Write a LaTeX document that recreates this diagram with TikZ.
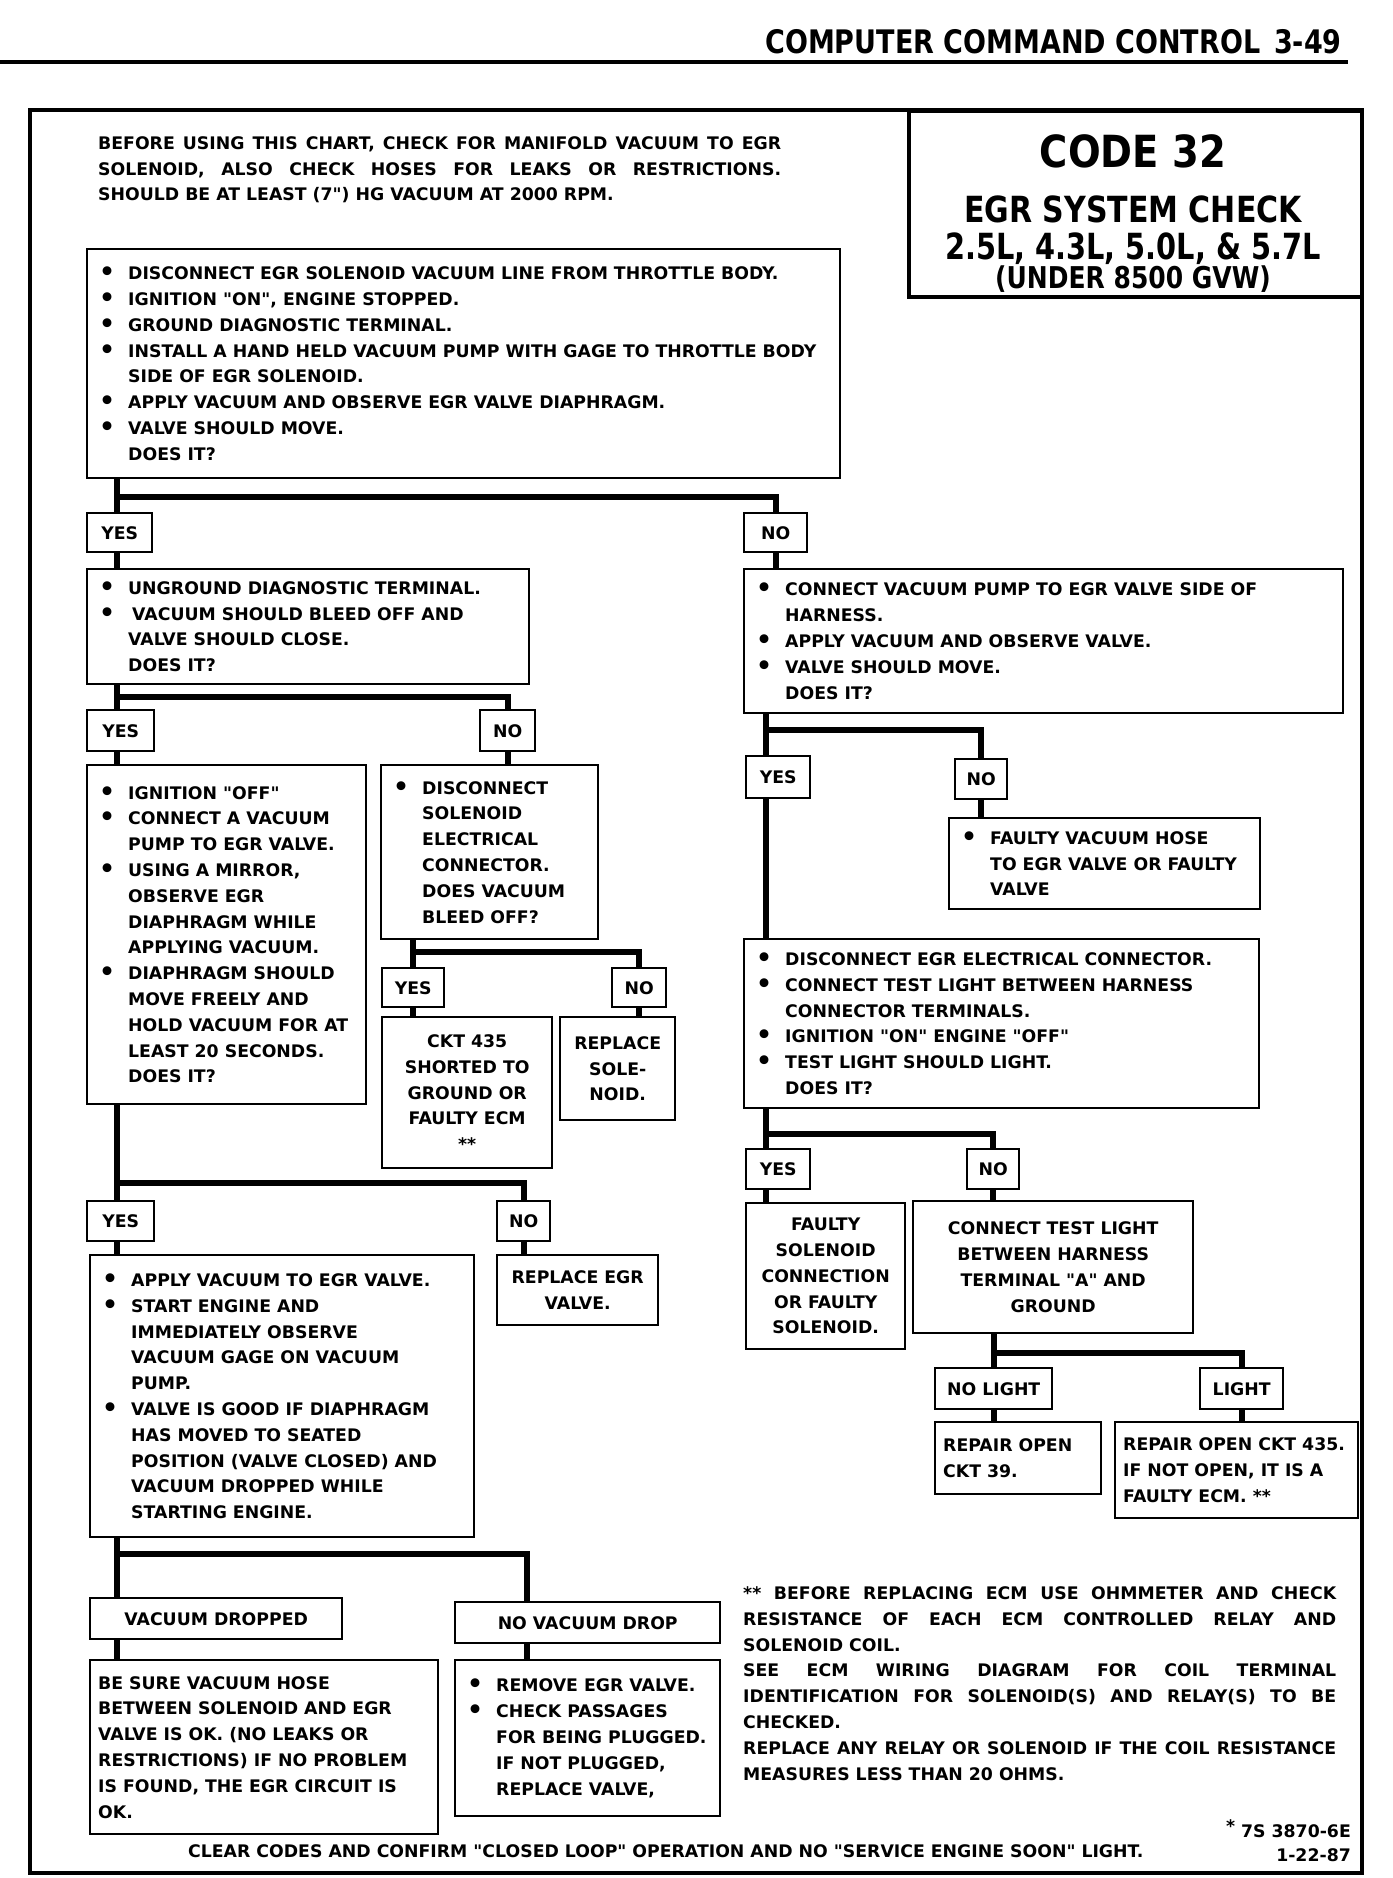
\documentclass[tikz,border=0pt]{standalone}
\usepackage{fontspec}
\setmainfont{DejaVu Sans}[Ligatures=TeXOff]
\usetikzlibrary{calc}
\newcommand\tf{\fontsize{17.3}{25.8}\selectfont\bfseries}
\newcommand\bu{\makebox[29pt][l]{\raisebox{-1pt}{\scalebox{1.45}{\textbullet}}}}
\newcommand\ii{\hspace*{29pt}}
\begin{document}
\begin{tikzpicture}[x=1pt,y=-1pt,
  box/.style={draw, line width=2.4pt, fill=white, anchor=north west, inner sep=0pt},
  lab/.style={box, font=\tf, align=center},
  conn/.style={line width=6pt},
  txt/.style={inner sep=0pt, font=\tf, align=left, anchor=west},
  ctxt/.style={inner sep=0pt, font=\tf, align=center, anchor=center},
  free/.style={inner sep=0pt, font=\tf, align=left}]
\useasboundingbox (0,0) rectangle (1392,1878);
% header
\node[inner sep=0pt, anchor=base east, font=\fontsize{27}{27}\selectfont\bfseries] (hdr) at (1342,54) {\scalebox{1}[1.2]{COMPUTER COMMAND CONTROL\hspace{14pt}3-49}};
\draw[line width=4pt] (0,62) -- (1348,62);
% frame
\draw[line width=3.5pt] (30,110) rectangle (1362,1873);
% intro
\node[free, anchor=base west] (intro) at (98,201) {\makebox[683pt][s]{BEFORE USING THIS CHART, CHECK FOR MANIFOLD VACUUM TO EGR}\\
\makebox[683pt][s]{SOLENOID, ALSO CHECK HOSES FOR LEAKS OR RESTRICTIONS.}\\
SHOULD BE AT LEAST (7") HG VACUUM AT 2000 RPM.};
% title
\node[box, line width=3.5pt, minimum width=453, minimum height=185] (T) at (907,110) {};
\node[inner sep=0pt, anchor=base, font=\fontsize{38.5}{38.5}\selectfont\bfseries] (t1) at (1133,168) {\scalebox{1}[1.15]{CODE 32}};
\node[inner sep=0pt, anchor=base, font=\fontsize{30}{30}\selectfont\bfseries] (t2) at (1133,223) {\scalebox{1}[1.2]{EGR SYSTEM CHECK}};
\node[inner sep=0pt, anchor=base, font=\fontsize{28.8}{28.8}\selectfont\bfseries] (t3) at (1133,259) {\scalebox{1}[1.25]{2.5L, 4.3L, 5.0L, \& 5.7L}};
\node[inner sep=0pt, anchor=base, font=\fontsize{25}{25}\selectfont\bfseries] (t4) at (1133,288) {\scalebox{1}[1.2]{(UNDER 8500 GVW)}};

% boxes
\node[box, minimum width=753, minimum height=229] (A) at (86,248) {};
\node[txt] (At) at ($(A.west)+(13,0)$) {\bu DISCONNECT EGR SOLENOID VACUUM LINE FROM THROTTLE BODY.\\
\bu IGNITION "ON", ENGINE STOPPED.\\
\bu GROUND DIAGNOSTIC TERMINAL.\\
\bu INSTALL A HAND HELD VACUUM PUMP WITH GAGE TO THROTTLE BODY\\
\ii SIDE OF EGR SOLENOID.\\
\bu APPLY VACUUM AND OBSERVE EGR VALVE DIAPHRAGM.\\
\bu VALVE SHOULD MOVE.\\
\ii DOES IT?};
\node[lab, minimum width=65, minimum height=39] (yA) at (86,512) {YES};
\node[lab, minimum width=63, minimum height=39] (nA) at (743,512) {NO};

\node[box, minimum width=442, minimum height=115] (B) at (86,568) {};
\node[txt] (Bt) at ($(B.west)+(13,0)$) {\bu UNGROUND DIAGNOSTIC TERMINAL.\\
\bu\hspace{4pt}VACUUM SHOULD BLEED OFF AND\\
\ii VALVE SHOULD CLOSE.\\
\ii DOES IT?};
\node[box, minimum width=599, minimum height=144] (C) at (743,568) {};
\node[txt] (Ct) at ($(C.west)+(13,0)$) {\bu CONNECT VACUUM PUMP TO EGR VALVE SIDE OF\\
\ii HARNESS.\\
\bu APPLY VACUUM AND OBSERVE VALVE.\\
\bu VALVE SHOULD MOVE.\\
\ii DOES IT?};

\node[lab, minimum width=67, minimum height=41] (yB) at (86,709) {YES};
\node[lab, minimum width=55, minimum height=41] (nB) at (479,709) {NO};

\node[box, minimum width=279, minimum height=339] (D) at (86,764) {};
\node[txt] (Dt) at ($(D.west)+(13,0)$) {\bu IGNITION "OFF"\\
\bu CONNECT A VACUUM\\
\ii PUMP TO EGR VALVE.\\
\bu USING A MIRROR,\\
\ii OBSERVE EGR\\
\ii DIAPHRAGM WHILE\\
\ii APPLYING VACUUM.\\
\bu DIAPHRAGM SHOULD\\
\ii MOVE FREELY AND\\
\ii HOLD VACUUM FOR AT\\
\ii LEAST 20 SECONDS.\\
\ii DOES IT?};
\node[box, minimum width=217, minimum height=174] (E) at (380,764) {};
\node[txt] (Et) at ($(E.west)+(13,0)$) {\bu DISCONNECT\\
\ii SOLENOID\\
\ii ELECTRICAL\\
\ii CONNECTOR.\\
\ii DOES VACUUM\\
\ii BLEED OFF?};

\node[lab, minimum width=62, minimum height=39] (yE) at (381,967) {YES};
\node[lab, minimum width=54, minimum height=39] (nE) at (611,967) {NO};
\node[box, minimum width=170, minimum height=151] (F) at (381,1016) {};
\node[ctxt] (Ft) at (F.center) {CKT 435\\SHORTED TO\\GROUND OR\\FAULTY ECM\\**};
\node[box, minimum width=115, minimum height=103] (G) at (559,1016) {};
\node[ctxt] (Gt) at (G.center) {REPLACE\\SOLE-\\NOID.};

\node[lab, minimum width=67, minimum height=40] (yD) at (86,1200) {YES};
\node[lab, minimum width=53, minimum height=40] (nD) at (496,1200) {NO};
\node[box, minimum width=384, minimum height=282] (H) at (89,1254) {};
\node[txt] (Ht) at ($(H.west)+(13,0)$) {\bu APPLY VACUUM TO EGR VALVE.\\
\bu START ENGINE AND\\
\ii IMMEDIATELY OBSERVE\\
\ii VACUUM GAGE ON VACUUM\\
\ii PUMP.\\
\bu VALVE IS GOOD IF DIAPHRAGM\\
\ii HAS MOVED TO SEATED\\
\ii POSITION (VALVE CLOSED) AND\\
\ii VACUUM DROPPED WHILE\\
\ii STARTING ENGINE.};
\node[box, minimum width=161, minimum height=70] (I) at (496,1254) {};
\node[ctxt] (It) at (I.center) {REPLACE EGR\\VALVE.};

\node[lab, minimum width=252, minimum height=41] (vd) at (89,1597) {VACUUM DROPPED};
\node[lab, minimum width=265, minimum height=41] (nvd) at (454,1601) {NO VACUUM DROP};
\node[box, minimum width=348, minimum height=174] (J) at (89,1659) {};
\node[txt] (Jt) at ($(J.west)+(9,0)$) {BE SURE VACUUM HOSE\\
BETWEEN SOLENOID AND EGR\\
VALVE IS OK. (NO LEAKS OR\\
RESTRICTIONS) IF NO PROBLEM\\
IS FOUND, THE EGR CIRCUIT IS\\
OK.};
\node[box, minimum width=265, minimum height=156] (K) at (454,1659) {};
\node[txt] (Kt) at ($(K.west)+(13,0)$) {\bu REMOVE EGR VALVE.\\
\bu CHECK PASSAGES\\
\ii FOR BEING PLUGGED.\\
\ii IF NOT PLUGGED,\\
\ii REPLACE VALVE,};

% right column
\node[lab, minimum width=64, minimum height=42] (yC) at (745,755) {YES};
\node[lab, minimum width=52, minimum height=40] (nC) at (954,758) {NO};
\node[box, minimum width=311, minimum height=91] (L) at (948,817) {};
\node[txt] (Lt) at ($(L.west)+(13,0)$) {\bu FAULTY VACUUM HOSE\\
\ii TO EGR VALVE OR FAULTY\\
\ii VALVE};
\node[box, minimum width=515, minimum height=169] (M) at (743,938) {};
\node[txt] (Mt) at ($(M.west)+(13,0)$) {\bu DISCONNECT EGR ELECTRICAL CONNECTOR.\\
\bu CONNECT TEST LIGHT BETWEEN HARNESS\\
\ii CONNECTOR TERMINALS.\\
\bu IGNITION "ON" ENGINE "OFF"\\
\bu TEST LIGHT SHOULD LIGHT.\\
\ii DOES IT?};
\node[lab, minimum width=64, minimum height=40] (yM) at (745,1148) {YES};
\node[lab, minimum width=52, minimum height=40] (nM) at (966,1148) {NO};
\node[box, minimum width=159, minimum height=146] (N) at (745,1202) {};
\node[ctxt] (Nt) at (N.center) {FAULTY\\SOLENOID\\CONNECTION\\OR FAULTY\\SOLENOID.};
\node[box, minimum width=280, minimum height=132] (O) at (912,1200) {};
\node[ctxt] (Ot) at (O.center) {CONNECT TEST LIGHT\\BETWEEN HARNESS\\TERMINAL "A" AND\\GROUND};
\node[lab, minimum width=117, minimum height=41] (nl) at (934,1367) {NO LIGHT};
\node[lab, minimum width=83, minimum height=41] (li) at (1199,1367) {LIGHT};
\node[box, minimum width=166, minimum height=72] (P) at (934,1421) {};
\node[txt] (Pt) at ($(P.west)+(9,0)$) {REPAIR OPEN\\CKT 39.};
\node[box, minimum width=243, minimum height=96] (Q) at (1114,1421) {};
\node[txt] (Qt) at ($(Q.west)+(9,0)$) {REPAIR OPEN CKT 435.\\IF NOT OPEN, IT IS A\\FAULTY ECM. **};

% footnote
\node[free, anchor=base west] (fn) at (743,1780) {\makebox[593pt][s]{** BEFORE REPLACING ECM USE OHMMETER AND CHECK}\\
\makebox[593pt][s]{RESISTANCE OF EACH ECM CONTROLLED RELAY AND}\\
SOLENOID COIL.\\
\makebox[593pt][s]{SEE ECM WIRING DIAGRAM FOR COIL TERMINAL}\\
\makebox[593pt][s]{IDENTIFICATION FOR SOLENOID(S) AND RELAY(S) TO BE}\\
CHECKED.\\
\makebox[593pt][s]{REPLACE ANY RELAY OR SOLENOID IF THE COIL RESISTANCE}\\
MEASURES LESS THAN 20 OHMS.};
\node[free, anchor=base west] (foot) at (188,1857) {CLEAR CODES AND CONFIRM "CLOSED LOOP" OPERATION AND NO "SERVICE ENGINE SOON" LIGHT.};
\node[free, anchor=base east] (ref1) at (1351,1837) {\raisebox{5pt}{*} 7S 3870-6E};
\node[free, anchor=base east] (ref2) at (1351,1861) {1-22-87};

% trunk x positions
\coordinate (tL) at (117,0);
\coordinate (tR) at (766,0);
\coordinate (tH) at (527,0);

% connectors left
\draw[conn] (A.south -| tL) -- (yA.north -| tL);
\draw[conn] ($(A.south -| tL)+(0,18)$) -| (nA.north);
\draw[conn] (yA.south -| tL) -- (B.north -| tL);
\draw[conn] (nA.south) -- (C.north -| nA.south);
\draw[conn] (B.south -| tL) -- (yB.north -| tL);
\draw[conn] ($(B.south -| tL)+(0,12)$) -| (nB.north);
\draw[conn] (yB.south -| tL) -- (D.north -| tL);
\draw[conn] (nB.south) -- (E.north -| nB.south);
\draw[conn] (E.south -| yE.north) -- (yE.north);
\draw[conn] ($(E.south -| yE.north)+(0,12)$) -| (nE.north);
\draw[conn] (yE.south) -- (F.north -| yE.south);
\draw[conn] (nE.south) -- (G.north -| nE.south);
\draw[conn] (D.south -| tL) -- (yD.north -| tL);
\draw[conn] ($(D.south -| tL)+(0,78)$) -| (nD.north);
\draw[conn] (yD.south -| tL) -- (H.north -| tL);
\draw[conn] (nD.south) -- (I.north -| nD.south);
\draw[conn] (H.south -| tL) -- (vd.north -| tL);
\draw[conn] ($(H.south -| tL)+(0,16)$) -| (nvd.north -| tH);
\draw[conn] (vd.south -| tL) -- (J.north -| tL);
\draw[conn] (nvd.south -| tH) -- (K.north -| tH);
% connectors right
\draw[conn] (C.south -| tR) -- (yC.north -| tR);
\draw[conn] ($(C.south -| tR)+(0,16)$) -| (nC.north);
\draw[conn] (yC.south -| tR) -- (M.north -| tR);
\draw[conn] (nC.south) -- (L.north -| nC.south);
\draw[conn] (M.south -| tR) -- (yM.north -| tR);
\draw[conn] ($(M.south -| tR)+(0,25)$) -| (nM.north);
\draw[conn] (yM.south -| tR) -- (N.north -| tR);
\draw[conn] (nM.south) -- (O.north -| nM.south);
\draw[conn] (O.south -| nl.north) -- (nl.north);
\draw[conn] ($(O.south -| nl.north)+(0,19)$) -| (li.north);
\draw[conn] (nl.south) -- (P.north -| nl.south);
\draw[conn] (li.south) -- (Q.north -| li.south);
\end{tikzpicture}
\end{document}
